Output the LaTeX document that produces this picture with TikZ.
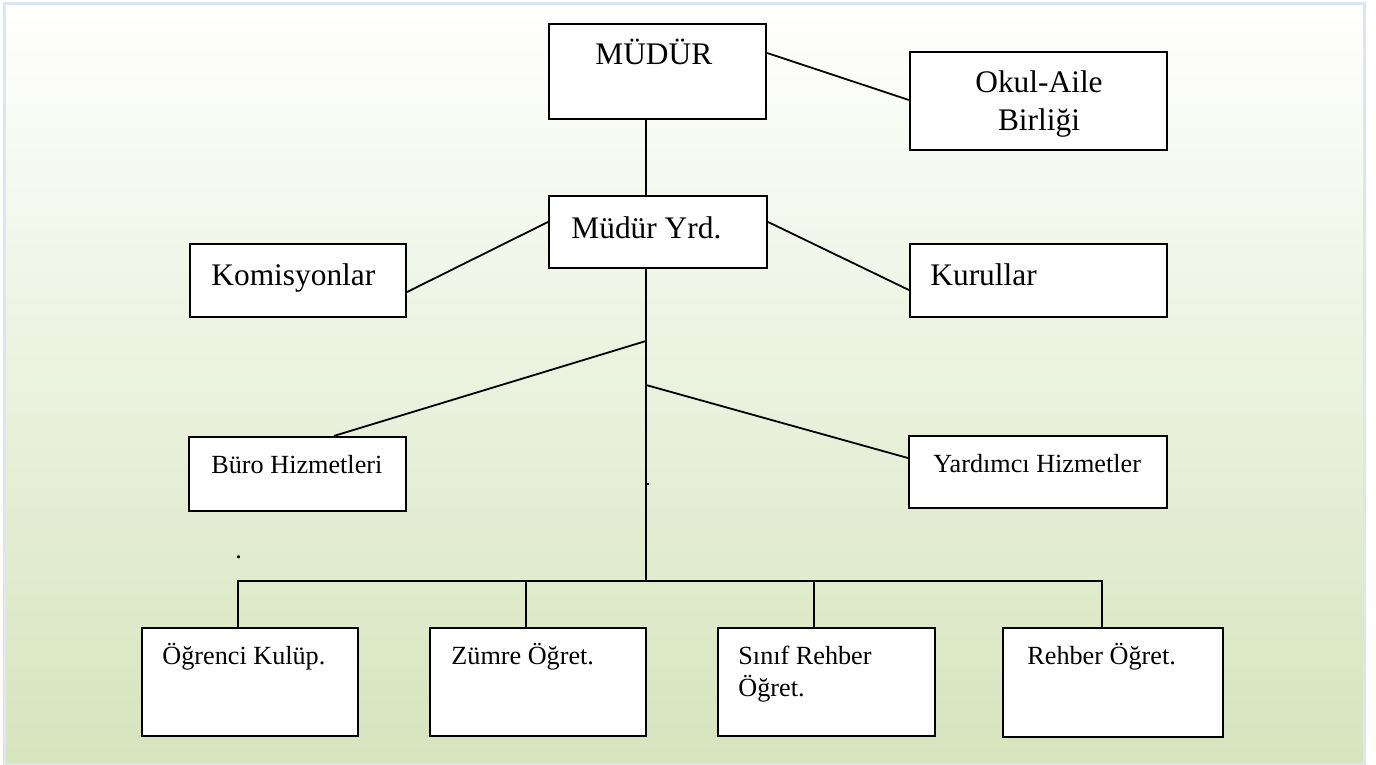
\documentclass[tikz,border=0pt]{standalone}
\usepackage{fontspec}
\setmainfont{Liberation Serif}
\usepackage{xcolor}
\definecolor{bgGreen}{RGB}{215,228,189}
\definecolor{frameBlue}{RGB}{220,230,242}
\newcommand*{\bigtxt}{\fontsize{15.7}{19}\selectfont}
\newcommand*{\smalltxt}{\fontsize{13.1}{16}\selectfont}

\begin{document}
\begin{tikzpicture}[x=0.5pt, y=-0.5pt,
  box/.style={draw, fill=white, line width=1.1pt, inner sep=0pt},
  txtL/.style={anchor=base west, inner sep=0pt, font=\bigtxt},
  txtS/.style={anchor=base west, inner sep=0pt, font=\smalltxt},
  line/.style={line width=0.9pt}]
\useasboundingbox (0,0) rectangle (1376,765);
% background
\fill[white] (0,0) rectangle (1376,765);
\shade[top color=white, bottom color=bgGreen] (4,4) rectangle (1364,764);
\draw[frameBlue, line width=1.5pt] (4,4) rectangle (1364,764);

% boxes
\node[box, minimum width=108.5pt, minimum height=47.5pt] (mudur) at (657.5,71.5) {};
\node[box, minimum width=128.5pt, minimum height=49pt] (okul) at (1038.5,101) {};
\node[box, minimum width=109pt, minimum height=36pt] (yrd) at (658,232) {};
\node[box, minimum width=108pt, minimum height=36.5pt] (komis) at (298,280.5) {};
\node[box, minimum width=128.5pt, minimum height=36.5pt] (kurul) at (1038.5,280.5) {};
\node[box, minimum width=108.5pt, minimum height=37pt] (buro) at (297.5,474) {};
\node[box, minimum width=129pt, minimum height=36pt] (yard) at (1038,472) {};
\node[box, minimum width=108pt, minimum height=54pt] (ogr) at (250,682) {};
\node[box, minimum width=108pt, minimum height=54pt] (zum) at (538,682) {};
\node[box, minimum width=108.5pt, minimum height=54pt] (sinif) at (826.5,682) {};
\node[box, minimum width=110pt, minimum height=54.5pt] (reh) at (1113,682.5) {};

% texts
\node[txtL] (mudur-t) at (595,65) {MÜDÜR};
\node[font=\bigtxt, align=center, inner sep=0pt] (okul-t) at (1039,103.5) {Okul-Aile\\Birliği};
\node[txtL] (yrd-t) at (571,238) {Müdür Yrd.};
\node[txtL] (komis-t) at (211,285) {Komisyonlar};
\node[txtL] (kurul-t) at (930,285) {Kurullar};
\node[txtS] (buro-t) at (211,473) {Büro Hizmetleri};
\node[txtS] (yard-t) at (933,472) {Yardımcı Hizmetler};
\node[txtS] (ogr-t) at (162,664) {Öğrenci Kulüp.};
\node[txtS] (zum-t) at (451,664) {Zümre Öğret.};
\node[font=\smalltxt, align=left, anchor=north west, inner sep=0pt] (sinif-t) at (738,646) {Sınıf Rehber\\Öğret.};
\node[txtS] (reh-t) at (1027,664) {Rehber Öğret.};
\node[txtS] (dot) at (235,558) {.};

% connectors
\coordinate (br1) at (646,341);
\coordinate (br2) at (646,385);
\coordinate (hub) at (646,581);
\draw[line] (mudur.south -| 646,0) -- (yrd.north -| 646,0);
\draw[line] (mudur.east |- 0,53) -- (okul.west |- 0,100);
\draw[line] (komis.east |- 0,292) -- (yrd.west |- 0,222);
\draw[line] (yrd.east |- 0,222) -- (kurul.west |- 0,290);
\draw[line] (yrd.south -| 646,0) -- (hub);
\draw[line] (br1) -- (buro.north -| 334,0);
\draw[line] (br2) -- (yard.west |- 0,458);
\draw[line] (646,484) -- (649,484);
\draw[line] (ogr.north -| 238,0) -- (238,581) -| (reh.north -| 1102,0);
\foreach \b/\x in {zum/526, sinif/814}
  \draw[line] (\b.north -| \x,0) -- (\x,581);
\end{tikzpicture}
\end{document}
